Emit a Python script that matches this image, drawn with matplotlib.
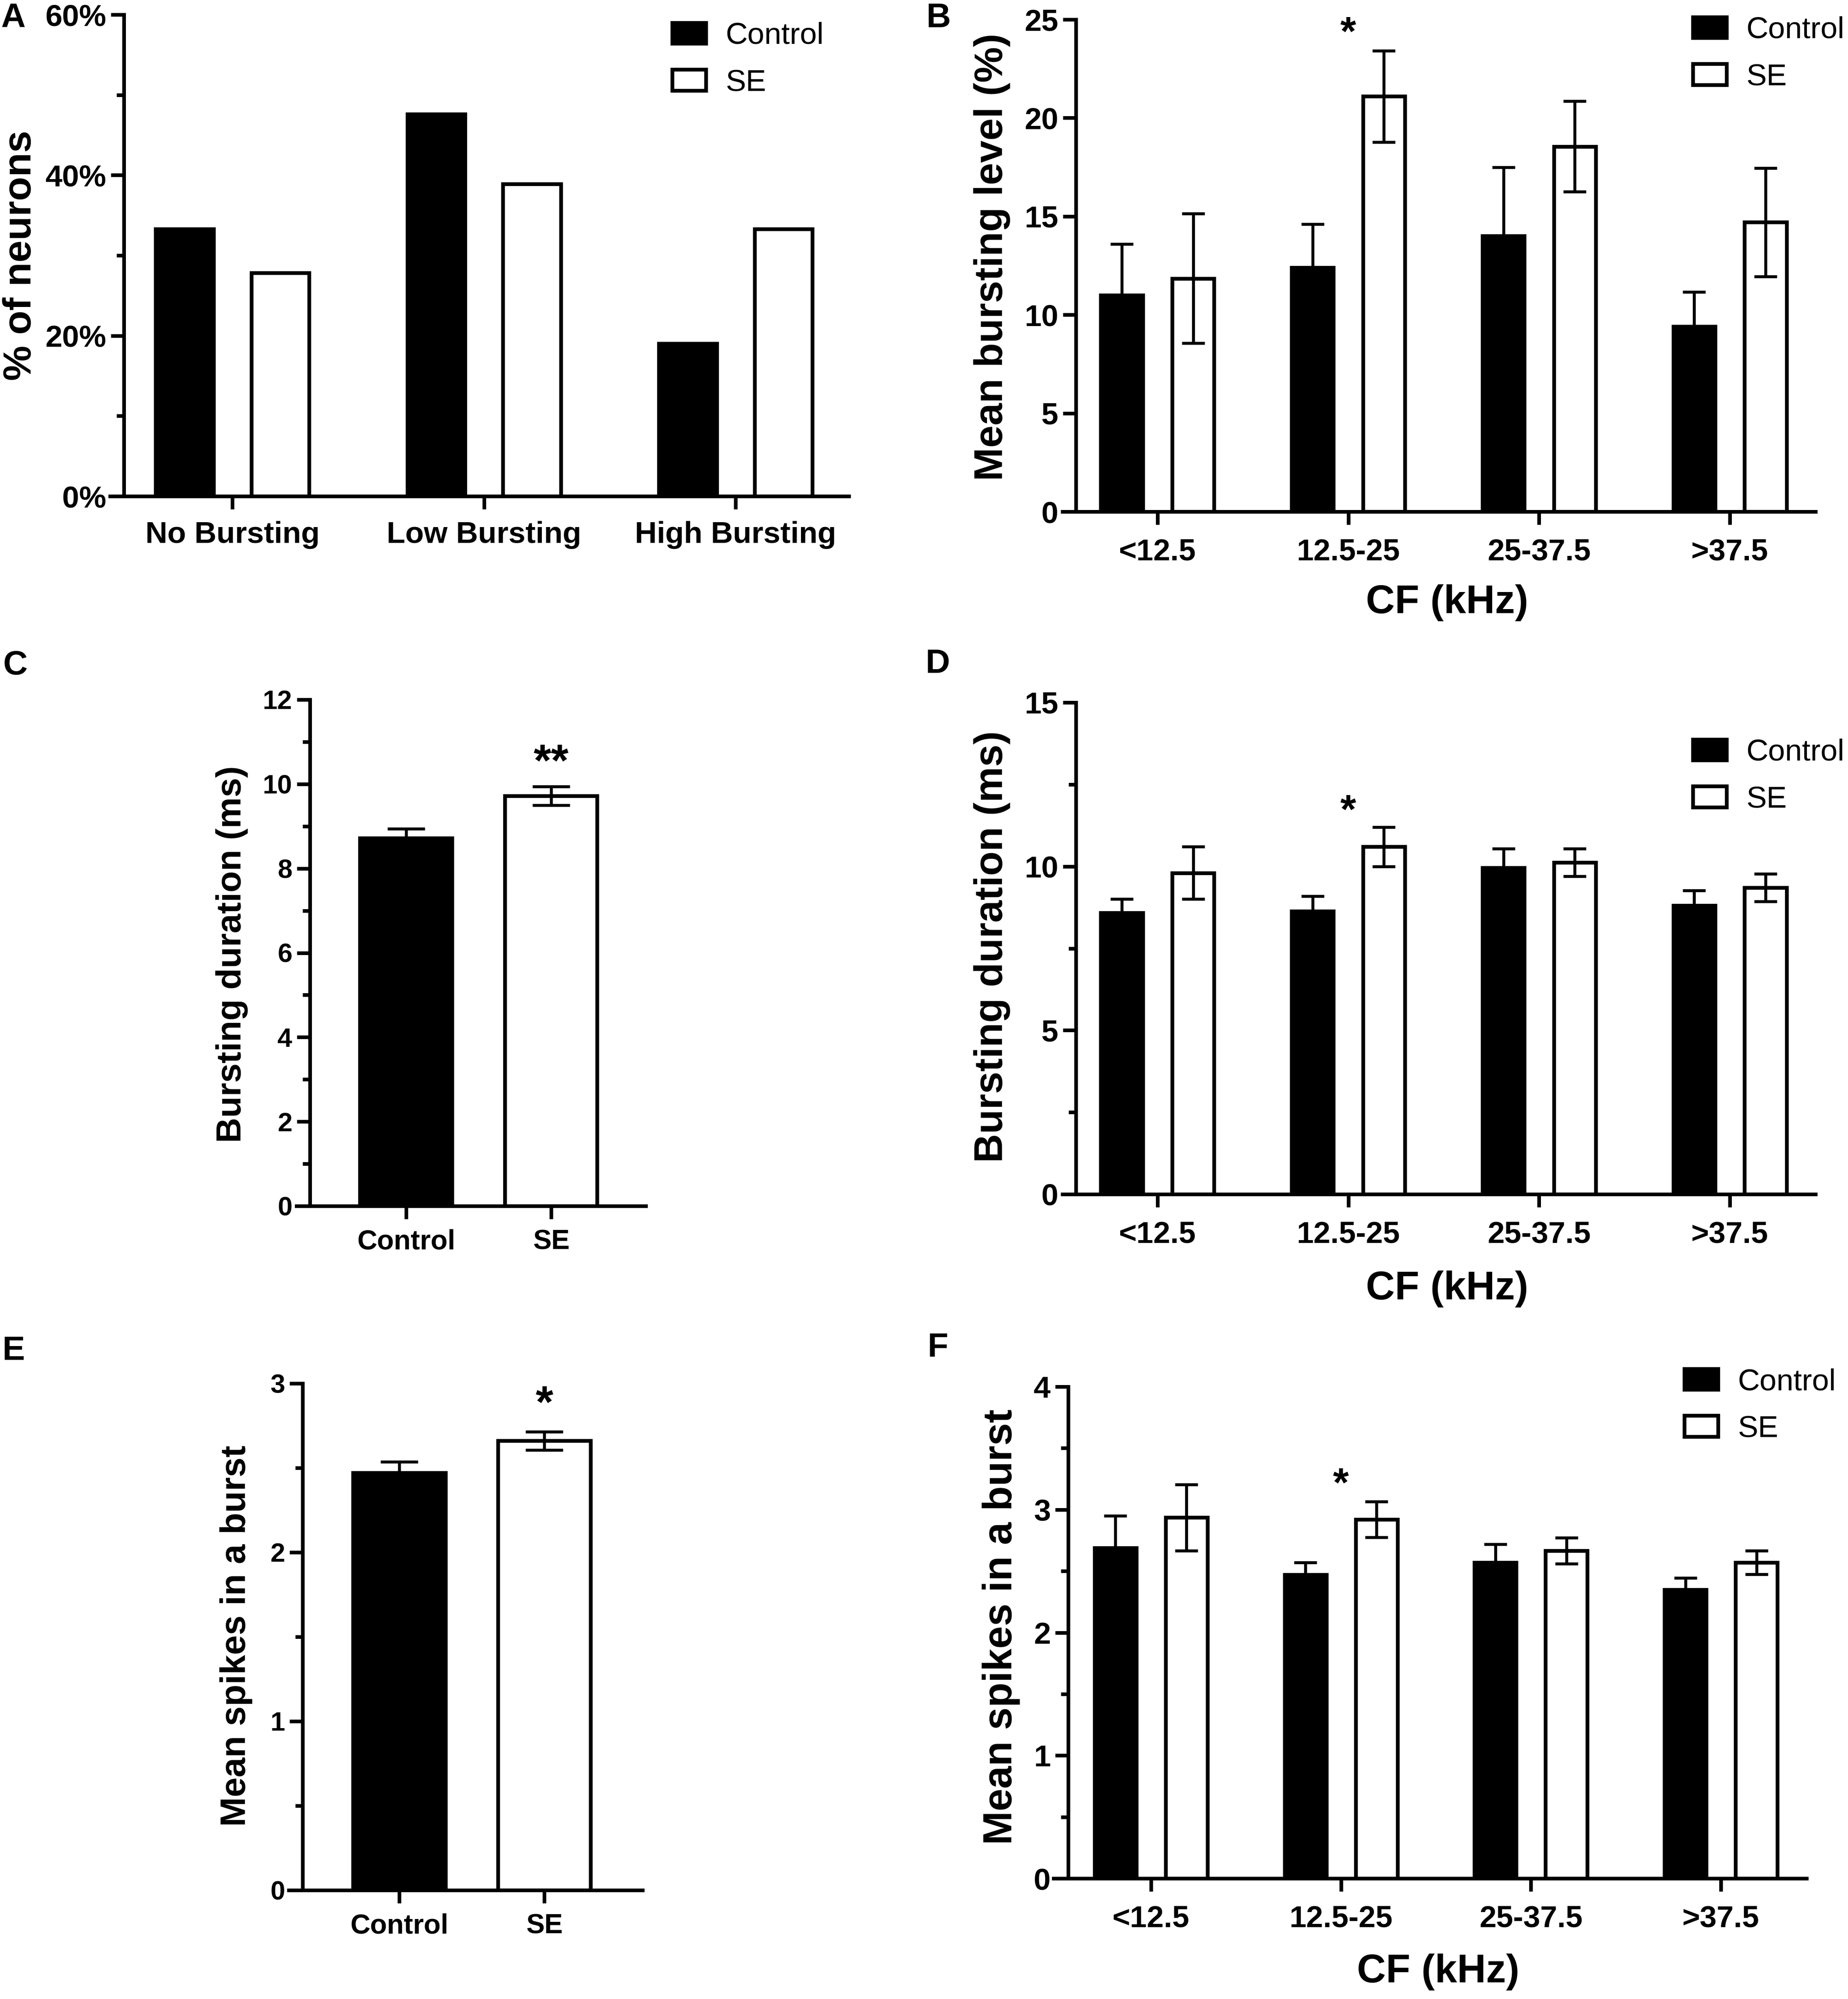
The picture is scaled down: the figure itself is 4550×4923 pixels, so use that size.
import numpy as np
import matplotlib
matplotlib.use("Agg")
import matplotlib.pyplot as plt
from matplotlib.ticker import MultipleLocator, PercentFormatter

plt.rcParams['font.family'] = ['Liberation Sans', 'DejaVu Sans']
plt.rcParams['font.weight'] = 'bold'

# ---------------- data ----------------
# A: share of neurons per bursting class (%)
burst_classes = ["No Bursting", "Low Bursting", "High Bursting"]
pct_control = [33.3, 47.6, 19.0]
pct_se = [27.8, 38.9, 33.3]

# CF bins used in B, D, F
cf_bins = ["<12.5", "12.5-25", "25-37.5", ">37.5"]

# B: mean bursting level (%)
level_control = [11.0, 12.4, 14.0, 9.4]
level_control_err = [2.6, 2.2, 3.5, 1.75]
level_se = [11.85, 21.1, 18.55, 14.7]
level_se_err = [3.3, 2.32, 2.3, 2.75]

# C: bursting duration, all neurons (ms)
groups = ["Control", "SE"]
dur_all = [8.72, 9.72]
dur_all_err = [0.22, 0.22]

# D: bursting duration per CF bin (ms)
dur_control = [8.58, 8.63, 9.96, 8.81]
dur_control_err = [0.42, 0.46, 0.58, 0.46]
dur_se = [9.8, 10.6, 10.12, 9.35]
dur_se_err = [0.8, 0.6, 0.42, 0.42]

# E: mean spikes in a burst, all neurons
spikes_all = [2.47, 2.66]
spikes_all_err = [0.065, 0.055]

# F: mean spikes in a burst per CF bin
spikes_control = [2.69, 2.47, 2.57, 2.35]
spikes_control_err = [0.26, 0.10, 0.15, 0.095]
spikes_se = [2.935, 2.92, 2.665, 2.57]
spikes_se_err = [0.27, 0.145, 0.105, 0.095]

# significance marks: (x position, baseline y, text)
sig_b = (1, 23.7, "*")
sig_c = (1, 10.2, "**")
sig_d = (1, 11.32, "*")
sig_e = (1, 2.80, "*")
sig_f = (1, 3.11, "*")

# ---------------- layout ----------------
W, H = 4550, 4923
LW = 6.5        # axis lines
BAR_LW = 6.7    # bar outlines
ERR_LW = 5.3

fig = plt.figure(figsize=(W / 100, H / 100), dpi=100)
fig.patch.set_facecolor("white")


def add_panel(x_left, x_right, y_top, y_zero):
    # pixel box -> figure fraction
    return fig.add_axes([x_left / W, 1 - y_zero / H,
                         (x_right - x_left) / W, (y_zero - y_top) / H])


def style(ax, yspine_x, ymax, major, minor=None, tick_fs=54, xpad=24):
    ax.spines[['top', 'right']].set_visible(False)
    ax.spines['left'].set_position(('data', yspine_x))
    for s in ('left', 'bottom'):
        ax.spines[s].set_linewidth(LW)
        ax.spines[s].set_zorder(5)
    ax.set_ylim(0, ymax)
    ax.yaxis.set_major_locator(MultipleLocator(major))
    if minor:
        ax.yaxis.set_minor_locator(MultipleLocator(minor))
    ax.tick_params(axis='both', which='major', length=23, width=LW,
                   labelsize=tick_fs)
    ax.tick_params(axis='y', which='minor', length=13, width=LW)
    ax.tick_params(axis='x', which='minor', bottom=False)
    ax.tick_params(axis='y', pad=8)
    ax.tick_params(axis='x', pad=xpad)
    ax.patch.set_alpha(0)


def ylabel_at(ax, text, x_px, y_px, fs):
    ax.set_ylabel(text, fontsize=fs, fontweight='bold')
    ax.yaxis.set_label_coords(x_px / W, 1 - y_px / H, transform=fig.transFigure)
    ax.yaxis.label.set_va('center')


def xlabel_at(ax, text, x_px, y_px, fs):
    ax.set_xlabel(text, fontsize=fs, fontweight='bold')
    ax.xaxis.set_label_coords(x_px / W, 1 - y_px / H, transform=fig.transFigure)
    ax.xaxis.label.set_va('center')


def legend_at(ax, x_px, y_px):
    ax.legend(loc='upper left', bbox_to_anchor=(x_px / W, 1 - y_px / H),
              bbox_transform=fig.transFigure, frameon=False,
              prop={'size': 54, 'weight': 'normal'},
              borderpad=0, borderaxespad=0, handlelength=1.1,
              handleheight=0.68, handletextpad=0.65, labelspacing=0.62)


def grouped(ax, ctrl, ctrl_err, se, se_err, width=0.22, off=0.187, cap=20):
    x = np.arange(len(ctrl))
    ax.bar(x - off, ctrl, width, color='black', edgecolor='black',
           lw=BAR_LW, label='Control', zorder=2)
    ax.bar(x + off, se, width, color='white', edgecolor='black',
           lw=BAR_LW, label='SE', zorder=2)
    if ctrl_err is not None:
        ax.errorbar(x - off, ctrl, yerr=ctrl_err, fmt='none', ecolor='black',
                    elinewidth=ERR_LW, capsize=cap, capthick=ERR_LW, zorder=3)
        ax.errorbar(x + off, se, yerr=se_err, fmt='none', ecolor='black',
                    elinewidth=ERR_LW, capsize=cap, capthick=ERR_LW, zorder=3)
    ax.set_xticks(x, cf_bins if len(ctrl) == 4 else burst_classes)


def pair(ax, vals, errs, width=0.64, cap=33):
    x = np.arange(len(vals))
    ax.bar(x, vals, width, color=['black', 'white'], edgecolor='black',
           lw=BAR_LW, zorder=2)
    ax.errorbar(x, vals, yerr=errs, fmt='none', ecolor='black',
                elinewidth=ERR_LW, capsize=cap, capthick=ERR_LW, zorder=3)
    ax.set_xticks(x, groups)


def star(ax, mark, fs):
    ax.text(mark[0], mark[1], mark[2], ha='center', va='baseline', fontsize=fs)


# ---------------- A ----------------
axA = add_panel(271, 2090, 36, 1222)
grouped(axA, pct_control, None, pct_se, None, width=0.23, off=0.19)
axA.set_xlim(-0.486, 2.45)
style(axA, -0.431, 60, 20, 10, tick_fs=54, xpad=21)
axA.yaxis.set_major_formatter(PercentFormatter(100, decimals=0))
ylabel_at(axA, "% of neurons", 51, 629, 70)
legend_at(axA, 1655, 54)

# ---------------- B ----------------
axB = add_panel(2616, 4470, 48, 1260)
grouped(axB, level_control, level_control_err, level_se, level_se_err)
axB.set_xlim(-0.498, 3.449)
style(axB, -0.428, 25, 5)
ylabel_at(axB, "Mean bursting level (%)", 2443, 633, 71)
xlabel_at(axB, "CF (kHz)", 3563, 1485, 71)
legend_at(axB, 4168, 40)
star(axB, sig_b, 72)

# ---------------- C ----------------
axC = add_panel(730, 1590, 1723, 2970)
pair(axC, dur_all, dur_all_err, width=0.636)
axC.set_xlim(-0.756, 1.653)
style(axC, -0.664, 12, 2, 1, tick_fs=47, xpad=18)
axC.tick_params(axis='x', labelsize=49)
ylabel_at(axC, "Bursting duration (ms)", 571, 2350, 62)
star(axC, sig_c, 80)

# ---------------- D ----------------
axD = add_panel(2616, 4470, 1730, 2941)
grouped(axD, dur_control, dur_control_err, dur_se, dur_se_err)
axD.set_xlim(-0.498, 3.449)
style(axD, -0.428, 15, 5, 2.5)
ylabel_at(axD, "Bursting duration (ms)", 2443, 2331, 71)
xlabel_at(axD, "CF (kHz)", 3563, 3174, 71)
legend_at(axD, 4168, 1819)
star(axD, sig_d, 72)

# ---------------- E ----------------
axE = add_panel(711, 1582, 3407, 4655)
pair(axE, spikes_all, spikes_all_err, width=0.64)
axE.set_xlim(-0.762, 1.678)
style(axE, -0.667, 3, 1, 0.5, tick_fs=47, xpad=18)
axE.tick_params(axis='x', labelsize=49)
ylabel_at(axE, "Mean spikes in a burst", 582, 4029, 63)
star(axE, sig_e, 80)

# ---------------- F ----------------
axF = add_panel(2594, 4448, 3415, 4626)
grouped(axF, spikes_control, spikes_control_err, spikes_se, spikes_se_err)
axF.set_xlim(-0.513, 3.451)
style(axF, -0.436, 4, 1, 0.5)
ylabel_at(axF, "Mean spikes in a burst", 2465, 4007, 72)
xlabel_at(axF, "CF (kHz)", 3541, 4856, 71)
legend_at(axF, 4147, 3369)
star(axF, sig_f, 72)

# ---------------- panel letters ----------------
for letter, px, py in [("A", 3, 6), ("B", 2280, 6), ("C", 8, 1600),
                       ("D", 2278, 1596), ("E", 5, 3288), ("F", 2283, 3280)]:
    fig.text(px / W, 1 - py / H, letter, fontsize=60, fontweight='bold',
             ha='left', va='top')

fig.savefig("out.png", dpi=100, facecolor=fig.get_facecolor())
